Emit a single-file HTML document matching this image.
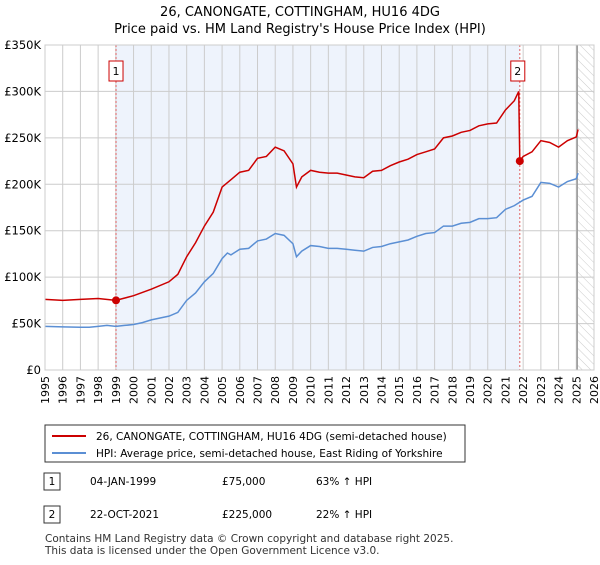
<!DOCTYPE html>
<html><head><meta charset="utf-8"><style>
body{margin:0;background:#fff;font-family:"Liberation Sans","DejaVu Sans",sans-serif;}
svg text{font-family:"DejaVu Sans","Liberation Sans",sans-serif;}
</style></head><body>
<svg width="600" height="560" id="chart">
<defs><pattern id="hatch" width="6" height="6" patternUnits="userSpaceOnUse" patternTransform="rotate(-45)"><line x1="0" y1="0" x2="0" y2="6" stroke="#ccc" stroke-width="1"/></pattern></defs>
<text x="300" y="16" text-anchor="middle" font-size="13">26, CANONGATE, COTTINGHAM, HU16 4DG</text>
<text x="300" y="33" text-anchor="middle" font-size="13">Price paid vs. HM Land Registry's House Price Index (HPI)</text>
<g id="plot"></g>
<g>
<rect x="45" y="425" width="420" height="37" fill="#fff" stroke="#333"/>
<line x1="52" y1="436" x2="86" y2="436" stroke="#cc0000" stroke-width="2"/>
<text x="96" y="440" font-size="10.5">26, CANONGATE, COTTINGHAM, HU16 4DG (semi-detached house)</text>
<line x1="52" y1="453" x2="86" y2="453" stroke="#5b8fd4" stroke-width="2"/>
<text x="96" y="457" font-size="10.5">HPI: Average price, semi-detached house, East Riding of Yorkshire</text>
</g>
<g font-size="10.5">
<rect x="44" y="473" width="16" height="17" fill="#fff" stroke="#333"/><text x="52" y="485" text-anchor="middle">1</text>
<text x="90" y="485">04-JAN-1999</text><text x="222" y="485">£75,000</text><text x="316" y="485">63% ↑ HPI</text>
<rect x="44" y="506" width="16" height="17" fill="#fff" stroke="#333"/><text x="52" y="518" text-anchor="middle">2</text>
<text x="90" y="518">22-OCT-2021</text><text x="222" y="518">£225,000</text><text x="316" y="518">22% ↑ HPI</text>
</g>
<text x="45" y="542" font-size="10.5" fill="#333">Contains HM Land Registry data © Crown copyright and database right 2025.</text>
<text x="45" y="554" font-size="10.5" fill="#333">This data is licensed under the Open Government Licence v3.0.</text>
</svg>
<script>
const hpiYears=[1995,1996,1997,1997.5,1998,1998.5,1999,1999.5,2000,2000.5,2001,2001.5,2002,2002.5,2003,2003.5,2004,2004.5,2005,2005.3,2005.5,2006,2006.5,2007,2007.5,2008,2008.5,2009,2009.2,2009.5,2010,2010.5,2011,2011.5,2012,2012.5,2013,2013.5,2014,2014.5,2015,2015.5,2016,2016.5,2017,2017.5,2018,2018.5,2019,2019.5,2020,2020.5,2021,2021.5,2022,2022.5,2023,2023.5,2024,2024.5,2025,2025.1];
const hpiValues=[47,46.5,46,46,47,48,47,48,49,51,54,56,58,62,75,83,95,104,120,126,124,130,131,139,141,147,145,136,122,128,134,133,131,131,130,129,128,132,133,136,138,140,144,147,148,155,155,158,159,163,163,164,173,177,183,187,202,201,197,203,206,212];
const priceYears=[1995,1996,1997,1998,1999,2000,2001,2002,2002.5,2003,2003.5,2004,2004.5,2005,2005.5,2006,2006.5,2007,2007.5,2008,2008.5,2009,2009.2,2009.5,2010,2010.5,2011,2011.5,2012,2012.5,2013,2013.5,2014,2014.5,2015,2015.5,2016,2016.5,2017,2017.5,2018,2018.5,2019,2019.5,2020,2020.5,2021,2021.5,2021.75,2021.81,2022,2022.5,2023,2023.5,2024,2024.5,2025,2025.1];
const priceValues=[76,75,76,77,75,80,87,95,103,122,137,155,170,197,205,213,215,228,230,240,236,222,197,208,215,213,212,212,210,208,207,214,215,220,224,227,232,235,238,250,252,256,258,263,265,266,280,290,300,225,230,235,247,245,240,247,251,259];
const sales=[{label:"1",year:1999.01,value:75},{label:"2",year:2021.81,value:225}];
const yTicks=[0,50,100,150,200,250,300,350];
const yTickLabels=["£0","£50K","£100K","£150K","£200K","£250K","£300K","£350K"];
const xTicks=[1995,1996,1997,1998,1999,2000,2001,2002,2003,2004,2005,2006,2007,2008,2009,2010,2011,2012,2013,2014,2015,2016,2017,2018,2019,2020,2021,2022,2023,2024,2025,2026];

const X0=45,X1=594,Y0=370,Y1=45;
const x=v=>X0+(v-1995)/(2026-1995)*(X1-X0);
const y=v=>Y0-v/350*(Y0-Y1);
const NS="http://www.w3.org/2000/svg";
const g=document.getElementById('plot');
function mk(t,a){const e=document.createElementNS(NS,t);for(const k in a)e.setAttribute(k,a[k]);g.appendChild(e);return e;}
let e;
e=mk('rect',{x:x(1999.01),y:Y1,width:x(2021.81)-x(1999.01),height:Y0-Y1,fill:'#eef3fc'});


e=mk('rect',{x:x(2025.05),y:Y1,width:X1-x(2025.05),height:Y0-Y1,fill:'url(#hatch)'});


xTicks.forEach(t=>{
 e=mk('line',{x1:x(t),x2:x(t),y1:Y1,y2:Y0,stroke:'#ccc'});
 
 
 e=mk('text',{x:0,y:0,'font-size':11,'text-anchor':'end',transform:`translate(${x(t)+4},${Y0+6}) rotate(-90)`});
 e.textContent=t;
 
 
});
yTicks.forEach((t,i)=>{
 e=mk('line',{x1:X0,x2:X1,y1:y(t),y2:y(t),stroke:'#ccc'});
 
 
 e=mk('text',{x:X0-4,y:y(t)+4,'font-size':11.5,'text-anchor':'end'});
 e.textContent=yTickLabels[i];
 
 
});
e=mk('line',{x1:x(2025.05),x2:x(2025.05),y1:Y1,y2:Y0,stroke:'#999','stroke-width':1.5});


sales.forEach(s=>{
 e=mk('line',{x1:x(s.year),x2:x(s.year),y1:Y1,y2:Y0,stroke:'#e06060','stroke-dasharray':'2,2'});
 
 
});
e=mk('polyline',{points:hpiYears.map((t,i)=>x(t)+','+y(hpiValues[i])).join(' '),fill:'none',stroke:'#5b8fd4','stroke-width':1.5});


e=mk('polyline',{points:priceYears.map((t,i)=>x(t)+','+y(priceValues[i])).join(' '),fill:'none',stroke:'#cc0000','stroke-width':1.5});


sales.forEach(s=>{
 e=mk('circle',{cx:x(s.year),cy:y(s.value),r:4,fill:'#cc0000'});
 
 
 e=mk('rect',{x:x(s.year)-7-(s.label=='2'?2:0),y:y(322)-10,width:14,height:20,fill:'#fff',stroke:'#cc0000'});
 
 
 e=mk('text',{x:x(s.year)-(s.label=='2'?2:0),y:y(322)+4,'font-size':11,'text-anchor':'middle'});
 e.textContent=s.label;
 
 
});
e=mk('rect',{x:X0,y:Y1,width:X1-X0,height:Y0-Y1,fill:'none',stroke:'#ccc'});


</script>
</body></html>
